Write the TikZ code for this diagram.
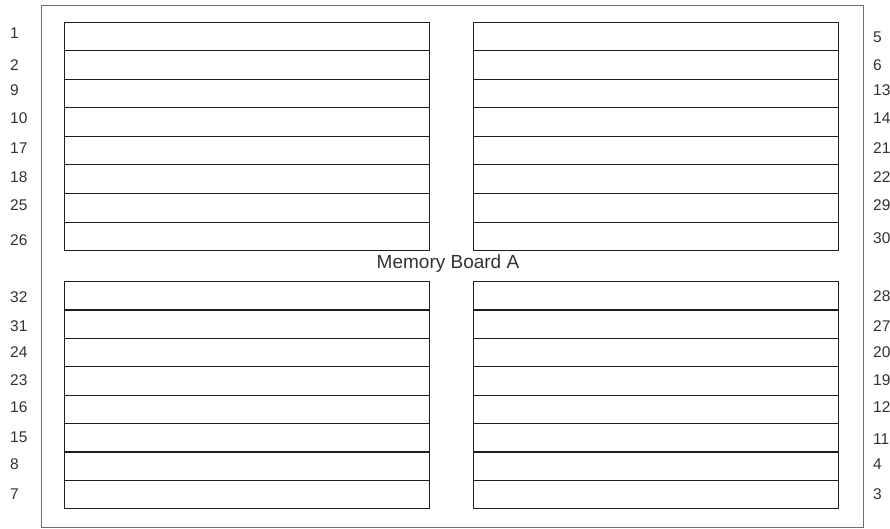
\documentclass[tikz,border=0pt]{standalone}
\usepackage{fontspec}
\setmainfont{Liberation Sans}
\usepackage{tikz}
\usetikzlibrary{positioning}
\definecolor{boardcolor}{RGB}{110,110,110}
\definecolor{slotcolor}{RGB}{30,30,30}
\definecolor{labelcolor}{RGB}{50,50,50}

\begin{document}
\begin{tikzpicture}[
        x=1pt, y=-1pt,
        board/.style={draw=boardcolor, line width=0.9pt},
        slot/.style={rectangle, draw=slotcolor, line width=0.8pt, anchor=north west, inner sep=0pt, minimum width=365pt, minimum height=28.5pt},
        slotlabel/.style={anchor=west, inner sep=0pt, text=labelcolor, font=\fontsize{15.5}{18}\selectfont},
        title/.style={text=labelcolor, font=\fontsize{19}{22}\selectfont}
    ]
        \useasboundingbox (0,0) rectangle (890,529);
        \draw[board] (41,5) rectangle (863,527);

        % slots of the four banks
        \foreach \i in {0,...,7} {
            \node[slot] (tl\i) at (64,{22+28.5*\i}) {};
            \node[slot] (tr\i) at (473,{22+28.5*\i}) {};
            \node[slot] (bl\i) at (64,{281+28.4*\i}) {};
            \node[slot] (br\i) at (473,{281+28.4*\i}) {};
        }

        % slot numbers
        \foreach \n/\ly [count=\i] in {1/33,2/65,9/90,10/118,17/148,18/177,25/205,26/240,32/297,31/326,24/352,23/380,16/407,15/437,8/464,7/494}
            \node[slotlabel] (left\i) at (10,\ly) {\n};
        \foreach \n/\ly [count=\i] in {5/37,6/65,13/90,14/118,21/148,22/177,29/205,30/238,28/296,27/326,20/352,19/380,12/407,11/439,4/464,3/494}
            \node[slotlabel] (right\i) at (873,\ly) {\n};

        \node[title] (boardname) at (448,264) {Memory Board A};
    \end{tikzpicture}
\end{document}
